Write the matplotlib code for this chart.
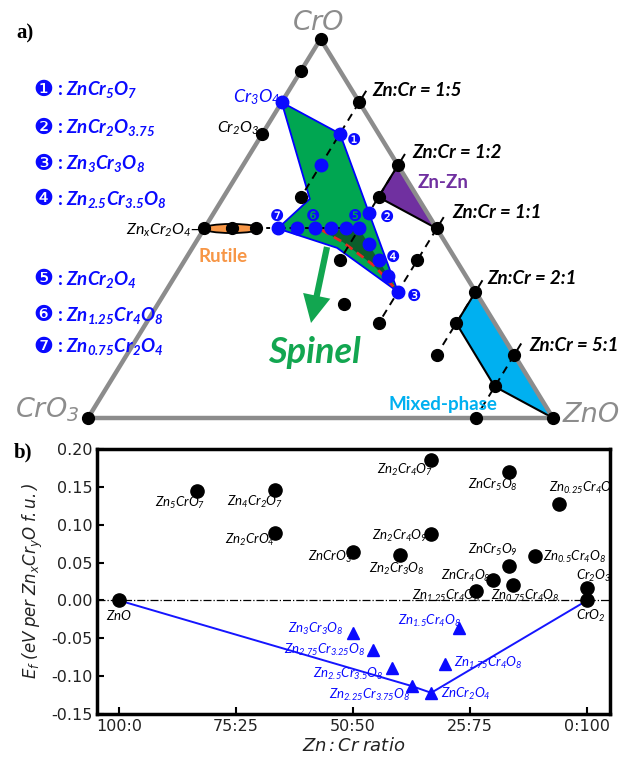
# Zn-Cr-O phase diagram (a) and formation energies vs Zn:Cr ratio (b)

import matplotlib.pyplot as plt
from matplotlib.patches import Polygon, Ellipse
import numpy as np

plt.rcParams['mathtext.fontset'] = 'custom'
plt.rcParams['mathtext.it'] = 'Lato:italic'
plt.rcParams['mathtext.rm'] = 'Lato:italic'
plt.rcParams['mathtext.bf'] = 'Lato:italic:bold'
plt.rcParams['mathtext.sf'] = 'DejaVu Sans:italic'

W, H = 625, 757

# ---- panel a data: compositions as (Zn, Cr, O) in the CrO3 - CrO - ZnO triangle
black_a = [(0, 1, 1), (0, 1, 3), (1, 0, 1), (0, 6, 7), (0, 2, 3),
           (1, 5, 6), (1, 2, 3), (1, 1, 2), (2, 1, 3), (5, 1, 6), (5, 1, 8),
           (0, 1, 2), (0.125, 2, 4), (0.25, 2, 4),
           (1, 5, 9), (1, 2, 3.5), (1, 2, 4.5), (2, 3, 8), (1, 1, 3), (3, 3, 7),
           (2, 1, 4), (4, 2, 7), (5, 1, 7)]
blue_a = [(0, 3, 4), (1, 5, 7), (1, 5, 8), (1, 2, 3.75),
          (0.375, 2, 4), (0.5, 2, 4), (0.625, 2, 4), (0.75, 2, 4), (0.875, 2, 4), (1, 2, 4),
          (2.25, 3.75, 8), (2.5, 3.5, 8), (2.75, 3.25, 8), (3, 3, 8)]

# region outlines as (ZnO fraction, CrO fraction)
spinel_reg = [(0, 0.833), (0.167, 0.75), (0.333, 0.542), (0.5, 0.333),
              (0.311, 0.449), (0.158, 0.5), (0.188, 0.578)]
znzn_reg = [(0.333, 0.667), (0.333, 0.583), (0.5, 0.5)]
mixed_reg = [(0.667, 0.333), (0.667, 0.25), (0.833, 0.083), (1.0, 0.0)]
hull_curve = [(0.255, 0.496), (0.285, 0.480), (0.316, 0.464), (0.370, 0.430),
              (0.411, 0.404), (0.446, 0.377), (0.478, 0.351), (0.5, 0.333)]

ratio_zno = [1/6, 1/3, 1/2, 2/3, 5/6]
ratio_low = [0.583, 0.417, 0.25, 0.167, 0.0]
ratio_txt = ['1:5', '1:2', '1:1', '2:1', '5:1']

legend_formulas = ['ZnCr_5O_7', 'ZnCr_2O_{3.75}', 'Zn_3Cr_3O_8', 'Zn_{2.5}Cr_{3.5}O_8',
                   'ZnCr_2O_4', 'Zn_{1.25}Cr_4O_8', 'Zn_{0.75}Cr_2O_4']
circled = ['\u2776', '\u2777', '\u2778', '\u2779', '\u277a', '\u277b', '\u277c']

# ---- panel b data
blk_lab = ['ZnO', 'Zn_5CrO_7', 'Zn_4Cr_2O_7', 'Zn_2CrO_4', 'ZnCrO_3', 'Zn_2Cr_4O_7',
           'ZnCr_5O_8', 'Zn_{0.25}Cr_4O_8', 'Zn_2Cr_4O_9', 'Zn_2Cr_3O_8', 'ZnCr_5O_9',
           'Zn_{0.5}Cr_4O_8', 'ZnCr_4O_8', 'Zn_{0.75}Cr_4O_8', 'Zn_{1.25}Cr_4O_8',
           'Cr_2O_3', 'CrO_2']
blk_x = [0, 16.7, 33.3, 33.3, 50.0, 66.7, 83.3, 94.1, 66.7, 60.0, 83.3, 88.9,
         80.0, 84.2, 76.2, 100, 100]
blk_y = [0, 0.144, 0.146, 0.089, 0.064, 0.185, 0.170, 0.128, 0.088, 0.060, 0.045,
         0.059, 0.027, 0.020, 0.012, 0.016, 0.0]
blu_lab = ['Zn_3Cr_3O_8', 'Zn_{2.75}Cr_{3.25}O_8', 'Zn_{2.5}Cr_{3.5}O_8',
           'Zn_{2.25}Cr_{3.75}O_8', 'ZnCr_2O_4', 'Zn_{1.75}Cr_4O_8', 'Zn_{1.5}Cr_4O_8']
blu_x = [50.0, 54.2, 58.3, 62.5, 66.7, 69.6, 72.7]
blu_y = [-0.043, -0.065, -0.089, -0.113, -0.122, -0.084, -0.037]
hull_x = [0, 62.5, 66.7, 100]
hull_y = [0, -0.113, -0.122, 0]

# label offsets (pixels)
blk_off = [(0, -16, 'center'), (-17, -12, 'center'), (-20, -12, 'center'),
           (-25, -7, 'center'), (-23, -5, 'center'), (-26, -10, 'center'),
           (-16, -13, 'center'), (24, 16, 'center'), (-31, -2, 'center'),
           (-3, -14, 'center'), (-16, 16, 'center'), (8, -1, 'left'),
           (-28, 4, 'center'), (12, -11, 'center'), (-29, -5, 'center'),
           (7, 12, 'center'), (4, -16, 'center')]
blu_off = [(-37, 4, 'center'), (-7, 0, 'right'), (-8, -6, 'right'), (-1, -9, 'right'),
           (10, -1, 'left'), (9, 1, 'left'), (2, 7, 'right')]


def frac(zn, cr, o):
    q = (o - zn - cr) / 2.0
    n = zn + cr
    return zn / n, (cr - q) / n


def cart(pts):
    pts = np.asarray(pts, dtype=float)
    return np.column_stack([pts[:, 0] + 0.5 * pts[:, 1], pts[:, 1]])


def ftext(X, Y, s, **kw):
    return fig.text(X / W, 1 - Y / H, s, **kw)


fig = plt.figure(figsize=(6.25, 7.57), dpi=100)

# ================= panel a =================
ax = fig.add_axes([0, 1 - 440 / H, 1, 440 / H])
ax.set_xlim(-88 / 465, (W - 88) / 465)
ax.set_ylim(-22 / 379, 418 / 379)
ax.axis('off')

ax.add_patch(Polygon(cart(spinel_reg), closed=True, fc='#00a651', ec='blue', lw=1.3, zorder=1))
dark = hull_curve[::-1] + [(0.333, 0.5)]
ax.add_patch(Polygon(cart(dark), closed=True, fc='#0b5e2b', ec='none', zorder=1.5))
hc = cart(hull_curve)
ax.plot(hc[:, 0], hc[:, 1], color='#e8261f', ls=(0, (3, 2)), lw=2, zorder=2)
ax.add_patch(Polygon(cart(znzn_reg), closed=True, fc='#7030a0', ec='none', zorder=1))
zz = cart(znzn_reg)
ax.plot(zz[:, 0], zz[:, 1], color='k', lw=1.5, zorder=2)
ax.add_patch(Polygon(cart(mixed_reg), closed=True, fc='#00b0f0', ec='none', zorder=1))
mx = cart(mixed_reg)
ax.plot(mx[:, 0], mx[:, 1], color='k', lw=1.5, zorder=2)

# constant Zn:Cr lines
for z, lo in zip(ratio_zno, ratio_low):
    seg = cart([(z, 1 - z + 0.03), (z, lo)])
    ax.plot(seg[:, 0], seg[:, 1], color='k', ls=(0, (4, 3)), lw=1.4, zorder=2)
row = cart([(0, 0.5), (1 / 3, 0.5)])
ax.plot(row[:, 0], row[:, 1], color='k', ls=(0, (2, 2)), lw=1.4, zorder=2)

# rutile lens
rc = cart([frac(0.125, 2, 4)])[0]
ax.add_patch(Ellipse((rc[0], 0.5), 0.12, 0.024, fc='#f79646', ec='k', lw=1.3, zorder=3))

# triangle frame
tri = cart([(0, 0), (1, 0), (0, 1), (0, 0)])
ax.plot(tri[:, 0], tri[:, 1], color='#8c8c8c', lw=3.2, zorder=3, solid_capstyle='round')

ba = cart([frac(*c) for c in black_a])
ax.plot(ba[:, 0], ba[:, 1], 'o', color='k', ms=8.5, zorder=4)
bl = cart([frac(*c) for c in blue_a])
ax.plot(bl[:, 0], bl[:, 1], 'o', color='#0a0aff', ms=9, zorder=4)

# spinel arrow
ax.annotate('', xy=((311 - 88) / 465, (418 - 323) / 379),
            xytext=((327 - 88) / 465, (418 - 247) / 379),
            arrowprops=dict(fc='#12a650', ec='none', width=4.5, headwidth=20,
                            headlength=20, shrink=0), zorder=5)

ftext(25, 33, 'a)', fontsize=15, fontweight='bold', family='Liberation Serif',
      ha='center', va='center')
gray = '#8c8c8c'
ftext(319, 23, 'CrO', fontsize=19.5, color=gray, style='italic', ha='center', va='center')
ftext(47, 410, r'CrO$_\mathsf{3}$', fontsize=19.5, color=gray, style='italic',
      ha='center', va='center')
ftext(591, 415, 'ZnO', fontsize=19.5, color=gray, style='italic', ha='center', va='center')

for t, X, Y in zip(ratio_txt, [372, 412, 452, 487, 529], [90, 153, 213, 278, 345]):
    ftext(X, Y, 'Zn:Cr = ' + t, fontsize=13.5, family='Lato', style='italic',
          fontweight='bold', ha='left', va='center')

ftext(443, 183, 'Zn-Zn', fontsize=13.5, family='Lato', fontweight='bold',
      color='#7030a0', ha='center', va='center')
ftext(223, 256, 'Rutile', fontsize=13.5, family='Lato', fontweight='bold',
      color='#f79646', ha='center', va='center')
ftext(443, 405, 'Mixed-phase', fontsize=13.5, family='Lato', fontweight='bold',
      color='#00b0f0', ha='center', va='center')
ftext(280, 97, r'$Cr_3O_4$', fontsize=13, color='#0a0aff', ha='right', va='center')
ftext(259, 128, r'$Cr_2O_3$', fontsize=11.5, color='k', ha='right', va='center')
ftext(200, 230, r'$Zn_xCr_2O_4$' + '\u2013', fontsize=11.5, color='k', ha='right',
      va='center')
ftext(314, 352, 'Spinel', fontsize=26, family='Lato', style='italic',
      fontweight='bold', color='#12a650', ha='center', va='center')

# numbered markers next to points
for c, X, Y in zip(circled, [354, 387, 414, 393, 355, 313, 277],
                   [140, 217, 296, 257, 216, 216, 216]):
    ftext(X, Y, c, fontsize=11.5, color='#0a0aff', ha='center', va='center')

# legend
for c, f, Y in zip(circled, legend_formulas, [90, 128, 164, 199, 279, 315, 347]):
    ftext(43, Y, c, fontsize=16, color='#0a0aff', ha='center', va='center')
    ftext(57, Y, r': $\mathbf{' + f + '}$', fontsize=13.5, family='Lato',
          fontweight='bold', color='#0a0aff', ha='left', va='center')

# ================= panel b =================
axb = fig.add_axes([97 / W, 1 - 714 / H, (610 - 97) / W, (714 - 449) / H])
axb.axhline(0, color='k', ls='-.', lw=0.9, zorder=1)
axb.plot(hull_x, hull_y, color='#1515ff', lw=1.4, zorder=2)
axb.plot(blk_x, blk_y, 'o', color='k', ms=9.5, zorder=3)
axb.plot(blu_x, blu_y, '^', color='#0a0aff', ms=9, zorder=3)

for lab, x, y, (dx, dy, ha) in zip(blk_lab, blk_x, blk_y, blk_off):
    axb.annotate('$' + lab + '$', (x, y), xytext=(dx, dy), textcoords='offset pixels',
                 ha=ha, va='center', fontsize=9.5, color='k', clip_on=True)
for lab, x, y, (dx, dy, ha) in zip(blu_lab, blu_x, blu_y, blu_off):
    axb.annotate('$' + lab + '$', (x, y), xytext=(dx, dy), textcoords='offset pixels',
                 ha=ha, va='center', fontsize=9.5, color='#0a0aff', clip_on=True)

axb.set_xlim(-4.7, 104.9)
axb.set_ylim(-0.15, 0.20)
axb.set_xticks([0, 25, 50, 75, 100])
axb.set_xticklabels(['100:0', '75:25', '50:50', '25:75', '0:100'])
axb.set_yticks(np.arange(-0.15, 0.201, 0.05))
axb.yaxis.set_major_formatter(plt.FormatStrFormatter('%.2f'))
axb.tick_params(direction='in', length=5, width=1.5, labelsize=11.5, labelcolor='#222222')
for s in axb.spines.values():
    s.set_linewidth(2.5)
axb.set_ylabel(r'$\mathsf{E_f\ (eV\ per\ Zn_xCr_yO\ f.u.)}$', fontsize=12, labelpad=4,
               color='#222222')
axb.set_xlabel(r'$\mathsf{Zn:Cr\ ratio}$', fontsize=13, labelpad=2, color='#222222')

ftext(23, 452, 'b)', fontsize=15, fontweight='bold', family='Liberation Serif',
      ha='center', va='center')

fig.savefig('out.png', dpi=100)
